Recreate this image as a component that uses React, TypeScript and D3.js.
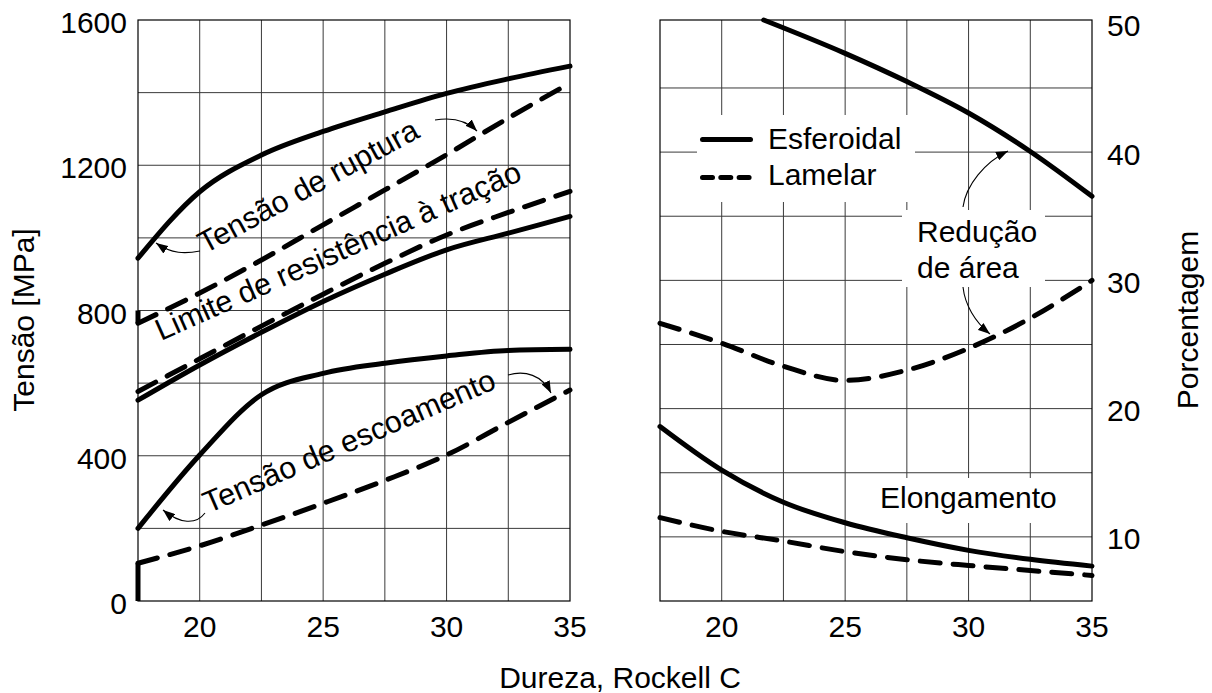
import React from "react";
import * as d3 from "d3";

// Hardness (Rockell C) sampled for every curve
const hardness = [17.5, 20, 22.5, 25, 27.5, 30, 32.5, 35];

// Stress curves [MPa]
const ruptureEsferoidal = [944, 1127, 1228, 1293, 1347, 1398, 1438, 1473];
const ruptureLamelar = [765, 848, 939, 1036, 1132, 1229, 1330, 1426];
const ruptureLamelarLead = 800;
const tensileEsferoidal = [553, 650, 740, 825, 900, 967, 1013, 1059];
const tensileLamelar = [577, 667, 757, 845, 930, 1008, 1070, 1128];
const yieldEsferoidal = [200, 402, 568, 627, 655, 675, 690, 693];
const yieldLamelar = [104, 152, 209, 269, 332, 402, 492, 581];
const yieldLamelarLead = 0;

// Percentage curves [%]
const reductionEsfHardness = [21.7, 25, 27.5, 30, 32.5, 35];
const reductionEsferoidal = [50.3, 47.7, 45.5, 43.05, 40.05, 36.55];
const reductionLamelar = [26.65, 25.1, 23.3, 22.2, 23.0, 24.7, 27.05, 30.0];
const elongationEsferoidal = [18.6, 15.2, 12.7, 11.1, 9.93, 8.95, 8.25, 7.72];
const elongationLamelar = [11.5, 10.43, 9.67, 8.85, 8.22, 7.77, 7.38, 6.99];

// Axis ticks
const xTickValues = [20, 25, 30, 35];
const xGridValues = [20, 22.5, 25, 27.5, 30, 32.5];
const stressTicks = [0, 400, 800, 1200, 1600];
const stressGrid = [200, 400, 600, 800, 1000, 1200, 1400];
const percentTicks = [10, 20, 30, 40, 50];
const percentGrid = [10, 15, 20, 25, 30, 35, 40, 45];

const FONT = "'Liberation Sans', Arial, Helvetica, sans-serif";
const FS = 30;
const FS_LABEL = 30.5;
const LW = 5;
const DASH = "20 13";

const TOP = 20;
const BOTTOM = 601;

const xL = d3.scaleLinear().domain([17.5, 35]).range([138, 570]);
const yL = d3.scaleLinear().domain([0, 1600]).range([BOTTOM, TOP]);
const xR = d3.scaleLinear().domain([17.5, 35]).range([660, 1092]);
const yR = d3.scaleLinear().domain([5, 50.3]).range([BOTTOM, TOP]);

function makeLine(xs: d3.ScaleLinear<number, number>, ys: d3.ScaleLinear<number, number>) {
  return d3
    .line<[number, number]>()
    .x((d) => xs(d[0]))
    .y((d) => ys(d[1]))
    .curve(d3.curveMonotoneX);
}

const zip = (xsv: number[], ysv: number[]): [number, number][] =>
  xsv.map((x, i) => [x, ysv[i]]);

const Curve = ({ d, dashed }: { d: string; dashed?: boolean }) => (
  <path
    d={d}
    fill="none"
    stroke="#000"
    strokeWidth={LW}
    strokeLinecap="round"
    strokeLinejoin="round"
    strokeDasharray={dashed ? DASH : undefined}
  />
);

const Arrow = ({ d }: { d: string }) => (
  <path d={d} fill="none" stroke="#000" strokeWidth={1.1} markerEnd="url(#arrowHead)" />
);

function Grid({
  xs,
  ys,
  yGrid,
}: {
  xs: d3.ScaleLinear<number, number>;
  ys: d3.ScaleLinear<number, number>;
  yGrid: number[];
}) {
  const [x0, x1] = xs.range();
  return (
    <g>
      {xGridValues.map((v) => (
        <line key={"v" + v} x1={xs(v)} x2={xs(v)} y1={TOP} y2={BOTTOM} stroke="#3a3a3a" strokeWidth={1} />
      ))}
      {yGrid.map((v) => (
        <line key={"h" + v} x1={x0} x2={x1} y1={ys(v)} y2={ys(v)} stroke="#3a3a3a" strokeWidth={1} />
      ))}
      <rect x={x0} y={TOP} width={x1 - x0} height={BOTTOM - TOP} fill="none" stroke="#000" strokeWidth={1.2} />
    </g>
  );
}

export default function App() {
  const lineL = makeLine(xL, yL);
  const lineR = makeLine(xR, yR);

  const textStyle = { fontFamily: FONT, fontSize: FS, fill: "#000" } as const;
  const labelStyle = { fontFamily: FONT, fontSize: FS_LABEL, fill: "#000" } as const;

  return (
    <svg
      width={1212}
      height={693}
      viewBox="0 0 1212 693"
      style={{ position: "absolute", left: 0, top: 0, background: "#fff" }}
    >
      <defs>
        <marker
          id="arrowHead"
          viewBox="0 0 12 9"
          refX={12}
          refY={4.5}
          markerWidth={12}
          markerHeight={9}
          markerUnits="userSpaceOnUse"
          orient="auto"
        >
          <path d="M0,0 L12,4.5 L0,9 z" fill="#000" />
        </marker>
      </defs>
      <rect x={0} y={0} width={1212} height={693} fill="#fff" />

      {/* Left panel: stress */}
      <Grid xs={xL} ys={yL} yGrid={stressGrid} />
      <Curve d={lineL(zip(hardness, ruptureEsferoidal)) || ""} />
      <Curve d={lineL(zip(hardness, ruptureLamelar)) || ""} dashed />
      <line
        x1={xL(hardness[0])}
        x2={xL(hardness[0])}
        y1={yL(ruptureLamelarLead)}
        y2={yL(ruptureLamelar[0])}
        stroke="#000"
        strokeWidth={LW}
      />
      <Curve d={lineL(zip(hardness, tensileEsferoidal)) || ""} />
      <Curve d={lineL(zip(hardness, tensileLamelar)) || ""} dashed />
      <Curve d={lineL(zip(hardness, yieldEsferoidal)) || ""} />
      <Curve d={lineL(zip(hardness, yieldLamelar)) || ""} dashed />
      <line
        x1={xL(hardness[0])}
        x2={xL(hardness[0])}
        y1={yL(yieldLamelarLead)}
        y2={yL(yieldLamelar[0])}
        stroke="#000"
        strokeWidth={LW}
      />

      {/* Curve labels, left panel */}
      <text transform="translate(205,254) rotate(-28.5)" style={labelStyle}>
        Tensão de ruptura
      </text>
      <text transform="translate(161,341) rotate(-24)" style={labelStyle}>
        Limite de resistência à tração
      </text>
      <text transform="translate(208.5,513.5) rotate(-23.5)" style={labelStyle}>
        Tensão de escoamento
      </text>
      <Arrow d="M200,251 C185,254 172,254 156,243" />
      <Arrow d="M435,120 C452,117 466,120 477,131" />
      <Arrow d="M205,513 C196,525 180,524 163,510" />
      <Arrow d="M508,375 C525,370 542,375 551,393" />

      {/* Left axis */}
      {stressTicks.map((v) => (
        <text key={"sl" + v} x={127} y={yL(v) + 13} textAnchor="end" style={textStyle}>
          {v}
        </text>
      ))}
      {xTickValues.map((v) => (
        <text key={"xl" + v} x={xL(v)} y={637} textAnchor="middle" style={textStyle}>
          {v}
        </text>
      ))}
      <text transform="translate(34,320) rotate(-90)" textAnchor="middle" style={textStyle}>
        Tensão [MPa]
      </text>

      {/* Right panel: percentage */}
      <Grid xs={xR} ys={yR} yGrid={percentGrid} />
      {/* text backgrounds that interrupt the grid */}
      <rect x={697} y={115} width={218} height={87} fill="#fff" />
      <rect x={902} y={210} width={143} height={77} fill="#fff" />
      <rect x={872} y={478} width={190} height={45} fill="#fff" />

      <Curve d={lineR(zip(reductionEsfHardness, reductionEsferoidal)) || ""} />
      <Curve d={lineR(zip(hardness, reductionLamelar)) || ""} dashed />
      <Curve d={lineR(zip(hardness, elongationEsferoidal)) || ""} />
      <Curve d={lineR(zip(hardness, elongationLamelar)) || ""} dashed />

      {/* Legend */}
      <line x1={702.5} x2={750.5} y1={139.5} y2={139.5} stroke="#000" strokeWidth={LW} strokeLinecap="round" />
      <line
        x1={702.5}
        x2={750.5}
        y1={177.5}
        y2={177.5}
        stroke="#000"
        strokeWidth={LW}
        strokeLinecap="round"
        strokeDasharray="10 8.3"
      />
      <text x={768} y={148.5} style={textStyle}>
        Esferoidal
      </text>
      <text x={768} y={184.5} style={textStyle}>
        Lamelar
      </text>

      <text x={917} y={242} style={textStyle}>
        Redução
      </text>
      <text x={917} y={278} style={textStyle}>
        de área
      </text>
      <Arrow d="M963,207 C966,185 985,162 1008,151" />
      <Arrow d="M963,287 C965,305 975,322 990,334" />
      <text x={880} y={508} style={textStyle}>
        Elongamento
      </text>

      {/* Right axis */}
      {percentTicks.map((v) => (
        <text key={"pr" + v} x={1107} y={yR(v) + 12.5} style={textStyle}>
          {v}
        </text>
      ))}
      {xTickValues.map((v) => (
        <text key={"xr" + v} x={xR(v)} y={637} textAnchor="middle" style={textStyle}>
          {v}
        </text>
      ))}
      <text transform="translate(1198,320) rotate(-90)" textAnchor="middle" style={textStyle}>
        Porcentagem
      </text>

      <text x={620} y={688} textAnchor="middle" style={textStyle}>
        Dureza, Rockell C
      </text>
    </svg>
  );
}
